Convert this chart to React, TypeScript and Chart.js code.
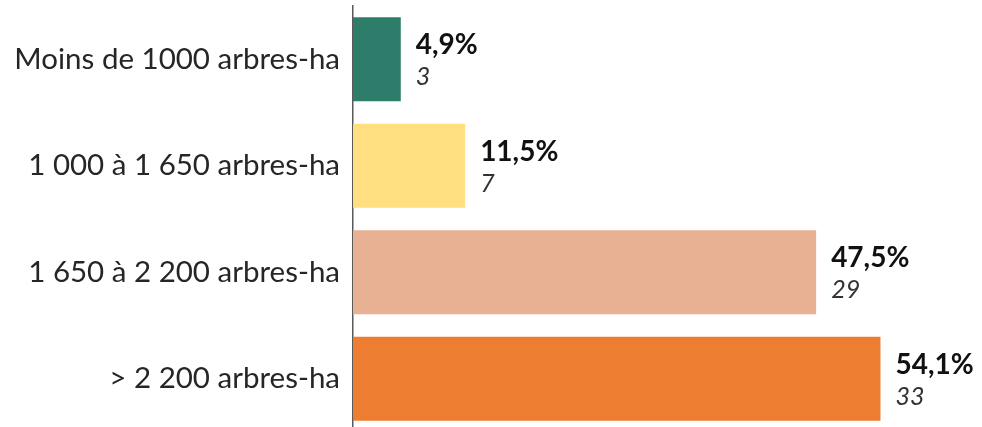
import React, { useEffect, useRef } from "react";
import { Chart, registerables } from "chart.js";
Chart.register(...registerables);

const categories = [
  "Moins de 1000 arbres-ha",
  "1 000 à 1 650 arbres-ha",
  "1 650 à 2 200 arbres-ha",
  "> 2 200 arbres-ha",
];
const percents = [4.9, 11.5, 47.5, 54.1];
const counts = [3, 7, 29, 33];
const percentLabels = ["4,9%", "11,5%", "47,5%", "54,1%"];
const colors = ["#2E7D6B", "#FFDF80", "#E8B193", "#ED7D31"];

const FONT = "Lato, sans-serif";

const valueLabels = {
  id: "valueLabels",
  afterDatasetsDraw(chart: any) {
    const ctx = chart.ctx;
    const meta = chart.getDatasetMeta(0);
    ctx.save();
    meta.data.forEach((bar: any, i: number) => {
      const x = bar.x + 15;
      const y = bar.y;
      ctx.textAlign = "left";
      ctx.textBaseline = "middle";
      ctx.fillStyle = "#111111";
      ctx.font = `bold 28px ${FONT}`;
      ctx.fillText(percentLabels[i], x, y - 14);
      ctx.fillStyle = "#333333";
      ctx.font = `italic 25px ${FONT}`;
      ctx.fillText(String(counts[i]), x, y + 18);
    });
    ctx.restore();
  },
};

export default function App() {
  const ref = useRef<HTMLCanvasElement>(null);
  useEffect(() => {
    document.body.style.margin = "0";
    document.body.style.overflow = "hidden";
    const chart = new Chart(ref.current!, {
      type: "bar",
      data: {
        labels: categories,
        datasets: [
          {
            data: percents,
            backgroundColor: colors,
            barPercentage: 0.79,
            categoryPercentage: 1,
          },
        ],
      },
      options: {
        indexAxis: "y",
        animation: false,
        responsive: false,
        maintainAspectRatio: false,
        layout: { padding: { top: 6, right: 44, bottom: 0, left: 0 } },
        plugins: { legend: { display: false }, tooltip: { enabled: false } },
        scales: {
          x: { display: false, min: 0, max: 60 },
          y: {
            afterFit(scale: any) {
              scale.width = 353;
              scale.paddingTop = 0;
              scale.paddingBottom = 0;
            },
            grid: { display: false, drawTicks: false },
            border: { display: true, color: "#595959", width: 1.5 },
            ticks: {
              padding: 13,
              color: "#262626",
              font: { family: FONT, size: 29.5 },
            },
          },
        },
      },
      plugins: [valueLabels],
    });
    return () => chart.destroy();
  }, []);
  return (
    <div style={{ position: "absolute", left: 0, top: 0, width: 982, height: 432 }}>
      <canvas ref={ref} width={982} height={432} style={{ width: 982, height: 432 }} />
    </div>
  );
}
